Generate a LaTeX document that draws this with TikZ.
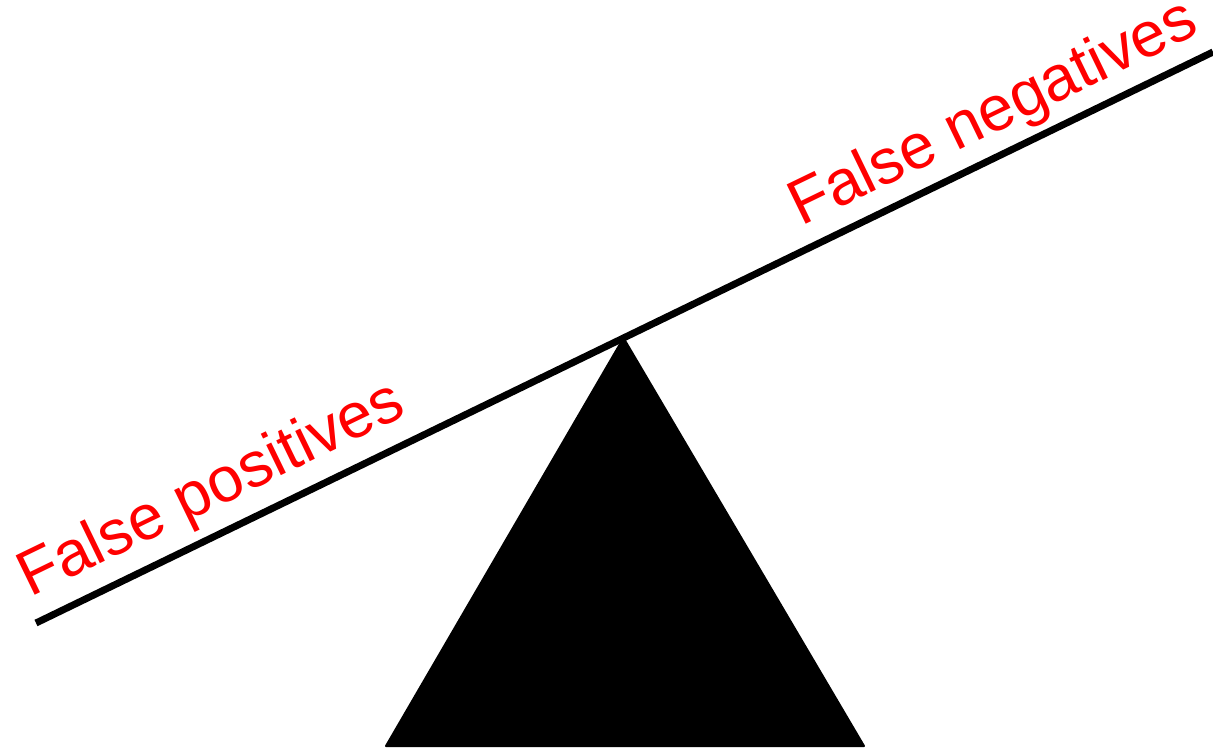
\documentclass[tikz,border=0pt]{standalone}
\usepackage{fontspec}
\setmainfont{Liberation Sans}
\usepackage{tikz}
\usetikzlibrary{calc}

\begin{document}
\begin{tikzpicture}[
    x=1pt, y=-1pt,
    beam/.style={line width=7pt, black},
    fulcrum/.style={fill=black, draw=black, line width=2pt, line join=round},
    errlabel/.style={text=red, font=\fontsize{63.5}{70}\selectfont,
                     inner sep=0pt, anchor=base west, rotate=25.88}
]
  \useasboundingbox (0,0) rectangle (1213,750);
  % seesaw
  \coordinate (left)  at (36,623);
  \coordinate (right) at (1213,52);
  \coordinate (apex)  at (623.5,338);
  \fill[fulcrum] (apex) -- (864,746) -- (386,746) -- cycle;
  \draw[beam] (left) -- (right);
  % labels along the beam
  \node[errlabel] (fp) at (30,598)  {False positives};
  \node[errlabel] (fn) at (801,227) {False negatives};
\end{tikzpicture}
\end{document}
